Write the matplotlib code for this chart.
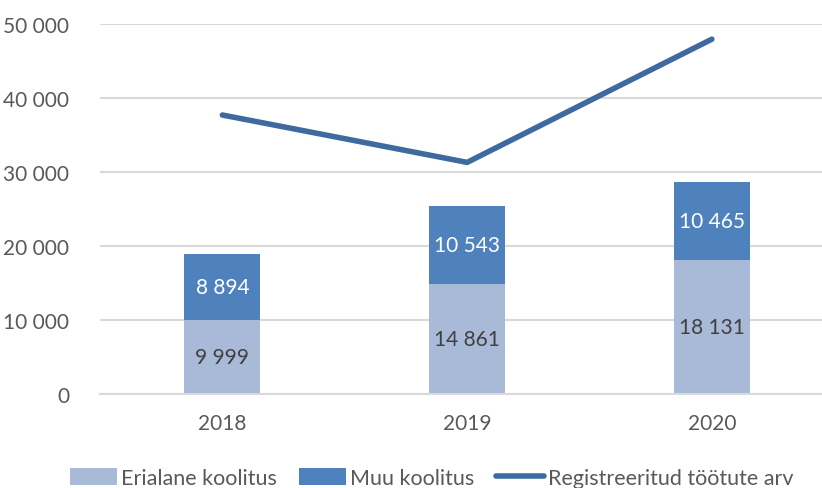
import numpy as np
import matplotlib.pyplot as plt

years = ["2018", "2019", "2020"]
erialane = [9999, 14861, 18131]
muu = [8894, 10543, 10465]
registreeritud = [37700, 31300, 47950]

plt.rcParams['font.family'] = ['Lato', 'DejaVu Sans']

fig = plt.figure(figsize=(8.22, 4.89), dpi=100)
ax = fig.add_axes([100/822, 94/489, 722/822, 370/489])

x = np.arange(len(years))
w = 0.31
c_light = "#A9B9D8"
c_dark = "#4F81BD"
c_line = "#3E6AA0"

b1 = ax.bar(x, erialane, w, color=c_light, label="Erialane koolitus", zorder=2)
b2 = ax.bar(x, muu, w, bottom=erialane, color=c_dark, label="Muu koolitus", zorder=2)
l1, = ax.plot(x, registreeritud, color=c_line, lw=4, solid_capstyle="round",
              label="Registreeritud töötute arv", zorder=3)

def fmt(v):
    return f"{v:,}".replace(",", " ")

for i in range(len(years)):
    ax.text(x[i], erialane[i] / 2, fmt(erialane[i]), ha="center", va="center",
            fontsize=15, color="#404040", zorder=4)
    ax.text(x[i], erialane[i] + muu[i] / 2, fmt(muu[i]), ha="center", va="center",
            fontsize=15, color="white", zorder=4)

ax.set_xlim(-0.5, 2.45)
ax.set_ylim(0, 50000)
ax.set_yticks(np.arange(0, 50001, 10000))
ax.set_yticklabels([fmt(v) for v in range(0, 50001, 10000)])
ax.set_xticks(x)
ax.set_xticklabels(years)
ax.tick_params(axis="both", length=0, labelsize=15, colors="#595959")
ax.tick_params(axis="x", pad=14)
ax.tick_params(axis="y", pad=22)
ax.grid(axis="y", color="#D9D9D9", lw=1.5, zorder=0)
for s in ["top", "right", "left"]:
    ax.spines[s].set_visible(False)
ax.spines["bottom"].set_color("#D9D9D9")
ax.spines["bottom"].set_linewidth(1.5)

fig.legend([b1, b2, l1], ["Erialane koolitus", "Muu koolitus", "Registreeritud töötute arv"],
           loc="lower center", bbox_to_anchor=(0.525, -0.04), ncol=3,
           frameon=False, fontsize=15.5, handlelength=2.2, handleheight=0.8,
           handletextpad=0.2, columnspacing=1.0, labelcolor="#595959")

fig.savefig("out.png", dpi=100)
